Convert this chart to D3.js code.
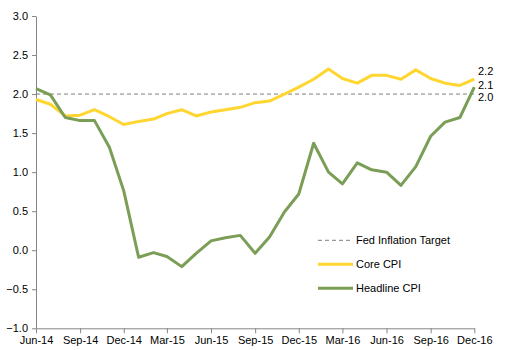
<!DOCTYPE html>
<html><head><meta charset="utf-8">
<script src="https://cdn.jsdelivr.net/npm/d3@7"></script>
<style>body{margin:0;background:#fff}svg{display:block;font-family:"Liberation Sans",Arial,sans-serif}</style>
</head><body><svg id="c" width="517" height="350"></svg>
<script>
const months = ["2014-06","2014-07","2014-08","2014-09","2014-10","2014-11","2014-12","2015-01","2015-02","2015-03","2015-04","2015-05","2015-06","2015-07","2015-08","2015-09","2015-10","2015-11","2015-12","2016-01","2016-02","2016-03","2016-04","2016-05","2016-06","2016-07","2016-08","2016-09","2016-10","2016-11","2016-12"];
const coreCPI = [1.93,1.87,1.72,1.73,1.80,1.71,1.61,1.65,1.68,1.75,1.80,1.72,1.77,1.80,1.83,1.89,1.91,2.00,2.09,2.19,2.32,2.20,2.14,2.24,2.24,2.19,2.31,2.20,2.14,2.11,2.19];
const headlineCPI = [2.07,1.99,1.70,1.66,1.66,1.32,0.76,-0.09,-0.03,-0.08,-0.21,-0.04,0.12,0.16,0.19,-0.04,0.17,0.49,0.72,1.37,1.00,0.85,1.12,1.03,1.00,0.83,1.07,1.46,1.64,1.70,2.09];
const fedTarget = 2.0;
const yTicks = [-1.0,-0.5,0.0,0.5,1.0,1.5,2.0,2.5,3.0];
const xTickLabels = ["Jun-14","Sep-14","Dec-14","Mar-15","Jun-15","Sep-15","Dec-15","Mar-16","Jun-16","Sep-16","Dec-16"];
const endLabels = ["2.2","2.1","2.0"];
const legendLabels = ["Fed Inflation Target","Core CPI","Headline CPI"];

const parse = d3.timeParse("%Y-%m");
const dates = months.map(parse);
const svg = d3.select("#c");
const x = d3.scaleTime().domain([dates[0], dates[dates.length-1]]).range([36, 474.3]);
const y = d3.scaleLinear().domain([-1, 3]).range([328.3, 16]);
const axisColor = "#868686";
const yellow = "#FFD630", green = "#7B9E57";

// Y axis
const ya = svg.append("g").attr("transform","translate(36,0)")
  .call(d3.axisLeft(y).tickValues(yTicks).tickFormat(d3.format(".1f")).tickSize(4).tickSizeOuter(0));
ya.select(".domain").attr("stroke", axisColor);
ya.selectAll(".tick line").attr("stroke", axisColor);
ya.selectAll(".tick text").attr("fill","#000").attr("font-size","11px").attr("x",-8).attr("font-family","Liberation Sans, Arial, sans-serif");

// X axis
const xTickDates = xTickLabels.map(s => d3.timeParse("%b-%y")(s));
const xa = svg.append("g").attr("transform","translate(0,328.3)")
  .call(d3.axisBottom(x).tickValues(xTickDates).tickFormat(d3.timeFormat("%b-%y")).tickSize(5).tickSizeOuter(0));
xa.select(".domain").attr("stroke", axisColor);
xa.selectAll(".tick line").attr("stroke", axisColor);
xa.selectAll(".tick text").attr("fill","#000").attr("font-size","11px").attr("y",8).attr("font-family","Liberation Sans, Arial, sans-serif");

// target line
svg.append("line").attr("x1", x(dates[0])).attr("x2", x(dates[dates.length-1]))
  .attr("y1", y(fedTarget)).attr("y2", y(fedTarget))
  .attr("stroke","#7f7f7f").attr("stroke-width",1).attr("stroke-dasharray","4,3");

const line = d3.line().x((d,i)=>x(dates[i])).y(d=>y(d));
svg.append("path").datum(coreCPI).attr("d", line).attr("fill","none").attr("stroke", yellow).attr("stroke-width",3).attr("stroke-linejoin","round");
svg.append("path").datum(headlineCPI).attr("d", line).attr("fill","none").attr("stroke", green).attr("stroke-width",3).attr("stroke-linejoin","round");

// end labels
const endY = [75, 89, 101];
endLabels.forEach((t,i)=>{
  svg.append("text").attr("x",478).attr("y",endY[i]).attr("font-size","11px").attr("fill","#000").text(t);
});

// legend
const legY = [240.3, 264.3, 288.3];
const lg = svg.append("g");
lg.append("line").attr("x1",318).attr("x2",351).attr("y1",legY[0]).attr("y2",legY[0]).attr("stroke","#7f7f7f").attr("stroke-dasharray","4,3");
lg.append("line").attr("x1",318).attr("x2",353).attr("y1",legY[1]).attr("y2",legY[1]).attr("stroke",yellow).attr("stroke-width",3);
lg.append("line").attr("x1",318).attr("x2",353).attr("y1",legY[2]).attr("y2",legY[2]).attr("stroke",green).attr("stroke-width",3);
legendLabels.forEach((t,i)=>{
  lg.append("text").attr("x",356).attr("y",legY[i]).attr("dy","0.35em").attr("font-size","11px").attr("fill","#000").text(t);
});
</script></body></html>
